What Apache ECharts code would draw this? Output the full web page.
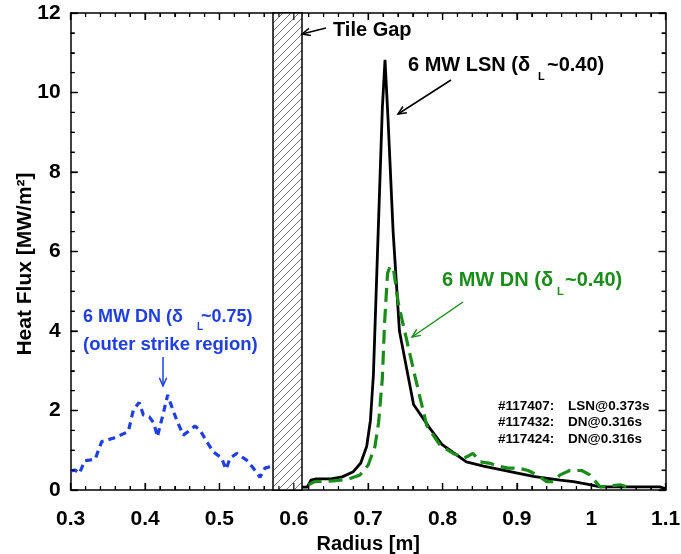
<!DOCTYPE html>
<html>
<head>
<meta charset="utf-8">
<script src="https://cdn.jsdelivr.net/npm/echarts@6/dist/echarts.min.js"></script>
<style>html,body{margin:0;padding:0;background:#fff;}#c{width:681px;height:554px;}</style>
</head>
<body>
<div id="c"></div>
<script>
// ---- data ----
const xTickLabels = ['0.3','0.4','0.5','0.6','0.7','0.8','0.9','1','1.1'];
const yTickLabels = ['0','2','4','6','8','10','12'];
const tileGap = [0.572, 0.611];

// 6 MW LSN (#117407)
const lsnR = [0.611,0.618,0.623,0.630,0.650,0.665,0.680,0.690,0.698,0.703,0.707,0.719,0.7226,0.7265,0.7335,0.742,0.761,0.783,0.799,0.810,0.832,0.855,0.886,0.922,0.958,0.976,0.994,1.007,1.012,1.050,1.092,1.100];
const lsnQ = [0.07,0.07,0.25,0.28,0.28,0.33,0.46,0.68,1.10,1.75,2.90,9.60,10.82,9.40,6.50,4.00,2.15,1.55,1.15,1.00,0.71,0.60,0.48,0.34,0.25,0.21,0.15,0.10,0.08,0.08,0.08,0.03];

// 6 MW DN, inner (#117432)
const dnR = [0.6195,0.628,0.653,0.673,0.689,0.700,0.709,0.714,0.719,0.722,0.726,0.7293,0.7338,0.7405,0.7518,0.763,0.7787,0.7966,0.8144,0.829,0.841,0.850,0.864,0.875,0.888,0.902,0.915,0.9266,0.940,0.949,0.958,0.971,0.987,0.998,1.0117,1.0386,1.054];
const dnQ = [0.13,0.21,0.23,0.27,0.38,0.63,1.09,1.70,2.80,4.20,5.45,5.62,5.58,4.70,3.77,2.85,1.62,1.13,0.92,0.80,0.92,0.71,0.67,0.60,0.55,0.55,0.49,0.38,0.21,0.21,0.38,0.49,0.49,0.38,0.08,0.13,0.04];

// 6 MW DN, outer strike region (#117424)
const outR = [0.300,0.306,0.3116,0.319,0.3328,0.3417,0.357,0.3775,0.3842,0.392,0.3977,0.4057,0.412,0.4165,0.4245,0.4304,0.4358,0.4425,0.4514,0.458,0.467,0.4738,0.4828,0.4917,0.503,0.5088,0.5142,0.5232,0.5366,0.5455,0.5545,0.5612,0.5689,0.572];
const outQ = [0.48,0.50,0.42,0.74,0.77,1.22,1.30,1.47,2.01,2.20,1.89,1.84,1.68,1.34,1.93,2.39,2.10,1.76,1.38,1.47,1.61,1.51,1.22,0.96,0.80,0.52,0.80,0.92,0.75,0.55,0.32,0.55,0.59,0.55];

const shotLabels = [['#117407:','LSN@0.373s'],['#117432:','DN@0.316s'],['#117424:','DN@0.316s']];

// ---- axis config ----
const X_MIN = 0.3, X_MAX = 1.1, X_STEP = 0.1, X_MINOR = 5;
const Y_MIN = 0, Y_MAX = 12, Y_STEP = 2, Y_MINOR = 4;

// ---- styles ----
const FONT = '"Liberation Sans", Arial, Helvetica, sans-serif';
const BLUE = '#1f3fe0';
const GREEN = '#1a8c1a';

function pairs(xs, ys){ return xs.map((x,i)=>[x, ys[i]]); }

// hatch pattern for tile gap
const P = 8;
const pc = document.createElement('canvas');
pc.width = P; pc.height = P;
const g = pc.getContext('2d');
g.fillStyle = '#fff'; g.fillRect(0,0,P,P);
g.strokeStyle = '#555'; g.lineWidth = 0.8;
g.beginPath();
g.moveTo(-1,P+1); g.lineTo(P+1,-1);
g.stroke();

function arrow(x1,y1,x2,y2,color){
  const ang = Math.atan2(y2-y1, x2-x1), L = 9, a = 0.42;
  const p1 = [x2 - L*Math.cos(ang-a), y2 - L*Math.sin(ang-a)];
  const p2 = [x2 - L*Math.cos(ang+a), y2 - L*Math.sin(ang+a)];
  return [
    {type:'line', shape:{x1,y1,x2,y2}, style:{stroke:color, lineWidth:1.5}, z:100},
    {type:'polyline', shape:{points:[p1,[x2,y2],p2]}, style:{stroke:color, lineWidth:1.5, fill:null}, z:100}
  ];
}
function txt(x,y,text,size,color){
  return {type:'text', x, y, z:100, style:{text, font:'bold '+size+'px '+FONT, fill:color, align:'left', verticalAlign:'middle'}};
}

const graphics = [];
graphics.push(txt(333, 30, 'Tile Gap', 20, '#000'));
graphics.push(...arrow(326, 28, 302, 34, '#000'));

graphics.push(txt(408, 65, '6 MW LSN (δ', 20, '#000'));
graphics.push(txt(538, 76.5, 'L', 11, '#000'));
graphics.push(txt(547, 65, '~0.40)', 20, '#000'));
graphics.push(...arrow(451, 80, 398, 114, '#000'));

graphics.push(txt(442, 280, '6 MW DN (δ', 20, GREEN));
graphics.push(txt(557, 291.5, 'L', 11, GREEN));
graphics.push(txt(565, 280, '~0.40)', 20, GREEN));
graphics.push(...arrow(463, 302, 412, 337, GREEN));

graphics.push(txt(83, 317.5, '6 MW DN (δ', 18, BLUE));
graphics.push(txt(197, 327.5, 'L', 10, BLUE));
graphics.push(txt(201, 317.5, '~0.75)', 18, BLUE));
graphics.push(txt(83, 344.5, '(outer strike region)', 18.5, BLUE));
graphics.push(...arrow(163, 357, 163, 386, BLUE));

shotLabels.forEach((s,i)=>{
  graphics.push(txt(498, 406 + i*16.5, s[0], 13.5, '#000'));
  graphics.push(txt(568, 406 + i*16.5, s[1], 13.5, '#000'));
});

graphics.push({type:'text', x:25, y:264, rotation:Math.PI/2, z:100,
  style:{text:'Heat Flux [MW/m²]', font:'bold 21px '+FONT, fill:'#000', align:'center', verticalAlign:'middle'}});

function makeAxis(extra, isX){
  return Object.assign({
    type:'value',
    splitLine:{show:false},
    axisLine:{show:true, onZero:false, lineStyle:{color:'#000', width:1.5}},
    axisTick:{show:true, inside:true, length:7, lineStyle:{color:'#000', width:1.3}},
    minorTick:{show:true, splitNumber: isX ? X_MINOR : Y_MINOR, length:4, lineStyle:{color:'#000', width:1.1}}
  }, extra);
}
function labelStyle(margin, fmt){
  return {show:true, margin, color:'#000', fontFamily:FONT, fontWeight:'bold', fontSize:21, formatter:fmt};
}

const option = {
  animation:false,
  backgroundColor:'#fff',
  grid:{left:70.7, right:15.3, top:13, bottom:64, containLabel:false, outerBoundsMode:'none'},
  xAxis:[
    makeAxis({position:'bottom', min:X_MIN, max:X_MAX, interval:X_STEP,
      axisLabel:labelStyle(19, v=>xTickLabels[Math.round((v-X_MIN)/X_STEP)]),
      name:'Radius [m]', nameLocation:'middle', nameGap:41,
      nameTextStyle:{color:'#000', fontFamily:FONT, fontWeight:'bold', fontSize:20}}, true),
    makeAxis({position:'top', min:X_MIN, max:X_MAX, interval:X_STEP, axisLabel:{show:false}}, true)
  ],
  yAxis:[
    makeAxis({position:'left', min:Y_MIN, max:Y_MAX, interval:Y_STEP,
      axisLabel:labelStyle(10, v=>yTickLabels[Math.round(v/Y_STEP)])}, false),
    makeAxis({position:'right', min:Y_MIN, max:Y_MAX, interval:Y_STEP, axisLabel:{show:false}}, false)
  ],
  series:[
    {name:'6 MW LSN', type:'line', data:pairs(lsnR, lsnQ), showSymbol:false, symbol:'none',
      lineStyle:{color:'#000', width:2.8}, z:3,
      markArea:{silent:true,
        itemStyle:{color:{image:pc, repeat:'repeat'}, borderColor:'#000', borderWidth:1.5},
        data:[[{xAxis:tileGap[0], yAxis:Y_MIN},{xAxis:tileGap[1], yAxis:Y_MAX}]]}},
    {name:'6 MW DN inner', type:'line', data:pairs(dnR, dnQ), showSymbol:false, symbol:'none',
      lineStyle:{color:GREEN, width:3.2, type:[14,7]}, z:4},
    {name:'6 MW DN outer', type:'line', data:pairs(outR, outQ), showSymbol:false, symbol:'none',
      lineStyle:{color:BLUE, width:3.2, type:[7,5]}, z:4}
  ],
  graphic:graphics
};

const chart = echarts.init(document.getElementById('c'), null, {renderer:'canvas'});
chart.setOption(option);

// frame ticks on all four sides, placed through the axes' own scales
const yBot = chart.convertToPixel({yAxisIndex:0}, Y_MIN);
const yTop = chart.convertToPixel({yAxisIndex:0}, Y_MAX);
const xLeft = chart.convertToPixel({xAxisIndex:0}, X_MIN);
const xRight = chart.convertToPixel({xAxisIndex:0}, X_MAX);
const tickEls = [];
function tk(x1,y1,x2,y2){ tickEls.push({type:'line', z:50, silent:true, shape:{x1,y1,x2,y2}, style:{stroke:'#000', lineWidth:1.2}}); }
const nX = Math.round((X_MAX-X_MIN)/X_STEP)*X_MINOR;
for (let i=0;i<=nX;i++){
  const v = X_MIN + i*X_STEP/X_MINOR;
  const px = chart.convertToPixel({xAxisIndex:0}, v);
  const len = (i % X_MINOR === 0) ? 7 : 4;
  tk(px, yBot, px, yBot-len);
  tk(px, yTop, px, yTop+len);
}
const nY = Math.round((Y_MAX-Y_MIN)/Y_STEP)*Y_MINOR;
for (let i=0;i<=nY;i++){
  const v = Y_MIN + i*Y_STEP/Y_MINOR;
  const py = chart.convertToPixel({yAxisIndex:0}, v);
  const len = (i % Y_MINOR === 0) ? 7 : 4;
  tk(xLeft, py, xLeft+len, py);
  tk(xRight, py, xRight-len, py);
}
chart.setOption({graphic: graphics.concat(tickEls)});
</script>
</body>
</html>
